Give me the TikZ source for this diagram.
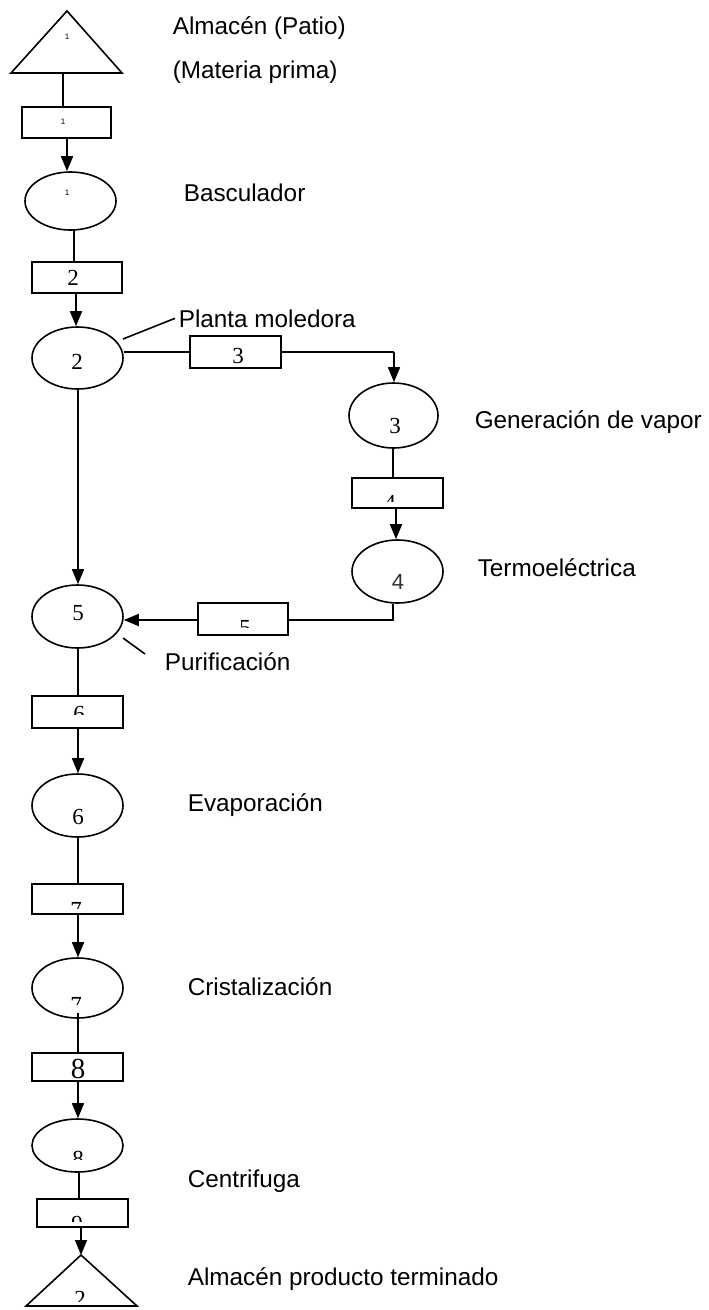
\documentclass[tikz,border=0pt]{standalone}
\usepackage{fontspec}
\setmainfont{Liberation Sans}
\newfontfamily\numfont{Liberation Serif}
\usetikzlibrary{shapes.geometric,arrows.meta}
\begin{document}
\begin{tikzpicture}[x=1pt,y=-1pt,line width=1.6pt,
  lab/.style={anchor=base west,inner sep=0,font=\fontsize{24.3}{28}\selectfont},
  ell/.style={draw,ellipse,inner sep=0,minimum width=91pt},
  rbox/.style={draw,rectangle,inner sep=0,minimum width=91pt},
  numtxt/.style={inner sep=0,font=\numfont\fontsize{23}{26}\selectfont},
  cutnum/.style={numtxt,anchor=north},
  smallnum/.style={inner sep=0,font=\fontsize{8}{9}\selectfont},
  arr/.style={-{Triangle[length=15pt,width=12pt]}},
]
\fill[white] (0,0) rectangle (709,1310);
\useasboundingbox (0,0) rectangle (709,1310);

% ---- top storage triangle
\coordinate (T1a) at (67,11);
\coordinate (T1l) at (11,73);
\coordinate (T1r) at (122,73);
\draw (T1a) -- (T1l) -- (T1r) -- cycle;
\node[smallnum] (t1) at (67,37) {1};
\coordinate (T1b) at (63,73);
\node[lab] (lA) at (172,34) {Almacén (Patio)};
\node[lab] (lB) at (172,78) {(Materia prima)};

% ---- box 1 / ellipse 1
\node[rbox,minimum width=89pt,minimum height=31pt] (B1) at (66.5,122.5) {};
\node[smallnum] (b1) at (63,122) {1};
\node[ell,minimum height=58pt] (E1) at (70.5,201) {};
\node[smallnum] (e1) at (67,193) {1};
\node[lab] (lC) at (183,201) {Basculador};

% ---- box 2 / ellipse 2
\node[rbox,minimum width=90pt,minimum height=31pt] (B2) at (77,277.5) {};
\node[numtxt] (b2) at (73,278) {2};
\node[ell,minimum height=62pt] (E2) at (77.5,358) {};
\node[numtxt] (e2) at (77,362) {2};
\node[lab] (lD) at (178,327) {Planta moledora};
\coordinate (L1) at (123,339);

% ---- branch: box 3, ellipse 3, box 4, ellipse 4
\node[rbox,minimum height=32pt] (B3) at (235.5,352) {};
\node[numtxt] (b3) at (238,356) {3};
\coordinate (K1) at (394,352);
\node[ell,minimum width=89pt,minimum height=65pt] (E3) at (393.5,415.5) {};
\node[numtxt] (e3) at (395,426) {3};
\node[lab] (lE) at (474,428) {Generación de vapor};
\node[rbox,minimum height=30pt] (B4) at (397.5,493) {};
\begin{scope}
\clip (0,0) rectangle (709,501);
\node[cutnum] (b4) at (390,495) {4};
\end{scope}
\node[ell,minimum height=63pt] (E4) at (397.5,571.5) {};
\node[inner sep=0,font=\fontsize{22}{25}\selectfont,text=black!80] (e4) at (398,582) {4};
\node[lab] (lF) at (477,576) {Termoeléctrica};
\coordinate (K2) at (393,620);

% ---- box 5 / ellipse 5
\node[rbox,minimum width=90pt,minimum height=32pt] (B5) at (243,619) {};
\begin{scope}
\clip (0,0) rectangle (709,627);
\node[cutnum] (b5) at (245,620) {5};
\end{scope}
\node[ell,minimum height=63pt] (E5) at (77.5,616.5) {};
\node[numtxt] (e5) at (78,613) {5};
\coordinate (L2a) at (123,638);
\coordinate (L2b) at (145,654);
\node[lab] (lG) at (164,670) {Purificación};

% ---- box 6 / ellipse 6
\node[rbox,minimum height=32pt] (B6) at (77.5,712) {};
\begin{scope}
\clip (0,0) rectangle (709,714);
\node[cutnum] (b6) at (79,705) {6};
\end{scope}
\node[ell,minimum height=63pt] (E6) at (77.5,805.5) {};
\node[numtxt] (e6) at (78,817) {6};
\node[lab] (lH) at (187,811) {Evaporación};

% ---- box 7 / ellipse 7
\node[rbox,minimum height=30pt] (B7) at (77.5,899) {};
\begin{scope}
\clip (0,0) rectangle (709,908);
\node[cutnum] (b7) at (76,902) {7};
\end{scope}
\node[ell,minimum height=60pt] (E7) at (77.5,988) {};
\begin{scope}
\clip (0,0) rectangle (709,1004);
\node[cutnum] (e7) at (76,997) {7};
\end{scope}
\node[lab] (lI) at (187,995) {Cristalización};

% ---- box 8 / ellipse 8
\node[rbox,minimum height=28pt] (B8) at (77.5,1067) {};
\node[inner sep=0,font=\numfont\fontsize{29}{32}\selectfont] (b8) at (78,1069) {8};
\node[ell,minimum height=53pt] (E8) at (77.5,1145.5) {};
\begin{scope}
\clip (0,0) rectangle (709,1159);
\node[cutnum] (e8) at (78,1150) {8};
\end{scope}
\node[lab] (lJ) at (187,1187) {Centrifuga};

% ---- box 9 / final triangle
\node[rbox,minimum height=28pt] (B9) at (82.5,1213) {};
\begin{scope}
\clip (0,0) rectangle (709,1221);
\node[cutnum] (b9) at (77,1215) {9};
\end{scope}
\coordinate (T2a) at (81,1255);
\coordinate (T2l) at (26,1306);
\coordinate (T2r) at (137,1306);
\draw (T2a) -- (T2l) -- (T2r) -- cycle;
\begin{scope}
\clip (0,0) rectangle (709,1301);
\node[cutnum] (t2) at (80,1290) {2};
\end{scope}
\node[lab] (lK) at (187,1285) {Almacén producto terminado};

% ---- connectors
\draw (T1b) -- (T1b |- B1.north);
\draw[arr] (B1.south -| t1) -- (E1.north -| t1);
\draw (74,230) -- (74,262);
\draw[arr] (B2.south -| 76,0) -- (E2.north -| 76,0);
\draw (L1) -- ([xshift=-3pt]lD.west);
\draw (B3.west -| E2.east) -- (B3.west);
\draw (B3.east) -- (K1);
\draw[arr] (K1) -- (E3.north -| K1);
\draw (E3.south -| 393,0) -- (B4.north -| 393,0);
\draw[arr] (B4.south -| 396,0) -- (E4.north -| 396,0);
\draw (E4.south -| K2) -- (K2) -- (B5.east |- K2);
\draw[arr] (B5.west |- K2) -- (E5.east |- K2);
\draw[arr] (E2.south -| 78,0) -- (E5.north -| 78,0);
\draw (L2a) -- (L2b);
\draw (E5.south -| 78,0) -- (B6.north -| 78,0);
\draw[arr] (B6.south -| 78,0) -- (E6.north -| 78,0);
\draw (E6.south -| 78,0) -- (B7.north -| 78,0);
\draw[arr] (B7.south -| 78,0) -- (E7.north -| 78,0);
\draw (78,1013) -- (B8.north -| 78,0);
\draw[arr] (B8.south -| 78,0) -- (E8.north -| 78,0);
\draw (E8.south -| 79,0) -- (B9.north -| 79,0);
\draw[arr] (B9.south -| T2a) -- (T2a);
\end{tikzpicture}
\end{document}
